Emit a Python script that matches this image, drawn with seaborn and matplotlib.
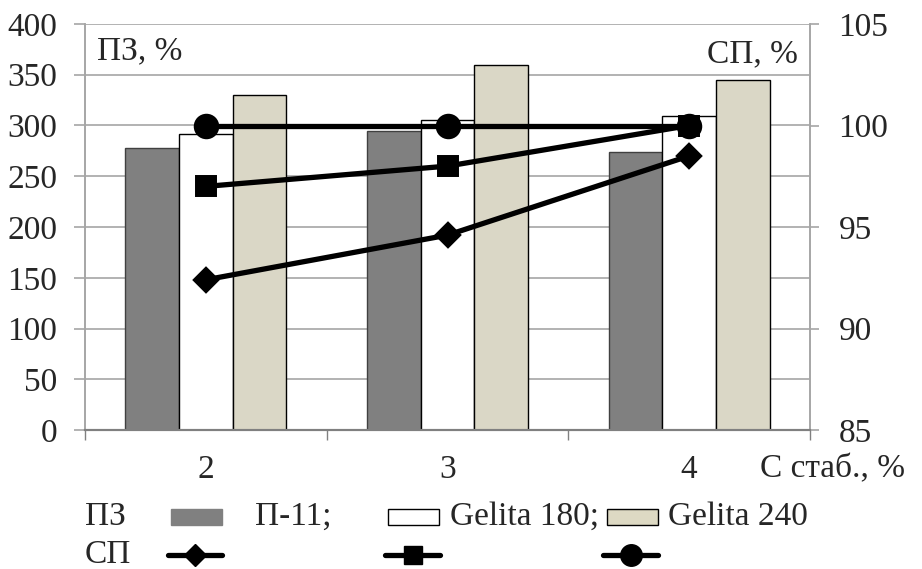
import matplotlib
matplotlib.use("Agg")
import matplotlib.pyplot as plt
from matplotlib.patches import Rectangle
from matplotlib.lines import Line2D
import seaborn as sns
import pandas as pd

# ---- data ----
categories = ["2", "3", "4"]
samples = ["П-11", "Gelita 180", "Gelita 240"]
pz_p11 = [278, 295, 274]
pz_g180 = [292, 305, 309]
pz_g240 = [330, 360, 345]
sp_p11 = [92.4, 94.6, 98.5]
sp_g180 = [97.0, 98.0, 100.0]
sp_g240 = [100.0, 100.0, 100.0]
left_ticks = [0, 50, 100, 150, 200, 250, 300, 350, 400]
right_ticks = [85, 90, 95, 100, 105]
legend_labels = ["П-11;", "Gelita 180;", "Gelita 240"]

bar_colors = ["#808080", "#ffffff", "#ddd9c3"]
bar_edges = ["#404040", "#000000", "#000000"]
markers = ["D", "s", "o"]

pz_df = pd.DataFrame({
    "C": categories * 3,
    "sample": sum([[s] * 3 for s in samples], []),
    "PZ": pz_p11 + pz_g180 + pz_g240,
})
sp_df = pd.DataFrame({
    "C": categories * 3,
    "sample": sum([[s] * 3 for s in samples], []),
    "SP": sp_p11 + sp_g180 + sp_g240,
})

sns.set_style("white")
FAM = "Liberation Serif"
plt.rcParams["font.family"] = FAM
FS = 24
GRID = "#a6a6a6"

fig = plt.figure(figsize=(9.22, 5.69), dpi=100)
ax = fig.add_axes([85 / 922, 1 - 430 / 569, 725 / 922, 406 / 569])

sns.barplot(data=pz_df, x="C", y="PZ", hue="sample", hue_order=samples,
            palette=bar_colors, width=0.665, linewidth=1.0,
            edgecolor="black", legend=False, ax=ax, zorder=2)
for cont, ec in zip(ax.containers, bar_edges):
    for p in cont:
        p.set_edgecolor(ec)

ax2 = ax.twinx()
sns.pointplot(data=sp_df, x="C", y="SP", hue="sample", hue_order=samples,
              palette=["black"] * 3, markers=markers, linestyles=["-"] * 3,
              dodge=False, errorbar=None, legend=False, ax=ax2,
              markersize=14, linewidth=3.8)
MS = {"D": 11.5, "s": 13.5, "o": 15.5}
for ln, m in zip(ax2.lines, markers):
    ln.set_markersize(MS[m])

ax.set_ylim(0, 400)
ax2.set_ylim(85, 105)
ax.set_xlim(-0.5, 2.5)

ax.set_yticks(left_ticks)
ax.set_yticklabels([str(t) for t in left_ticks])
ax2.set_yticks(right_ticks)
ax2.set_yticklabels([str(t) for t in right_ticks])

ax.set_xticks([-0.5, 0.5, 1.5, 2.5])
ax.set_xticklabels([])
ax.set_xticks([0, 1, 2], labels=categories, minor=True)
ax.tick_params(axis="x", which="major", direction="out", length=7,
               width=1, color="#808080", bottom=True)
ax.tick_params(axis="x", which="minor", length=0, pad=18, labelsize=FS)
ax.set_xlabel("")
ax.set_ylabel("")
ax2.set_ylabel("")

ax.yaxis.grid(True, color=GRID, linewidth=1.2)
ax.xaxis.grid(False)
ax.set_axisbelow(True)
ax2.grid(False)

ax.tick_params(axis="y", direction="out", length=8, width=1.2, color=GRID,
               pad=12, labelsize=FS, left=True)
ax2.tick_params(axis="y", direction="out", length=6.5, width=1.2, color=GRID,
                pad=14, labelsize=FS, right=True)

for a in (ax, ax2):
    for lab in a.get_xticklabels(minor=True) + a.get_yticklabels():
        lab.set_family(FAM)
    a.spines["top"].set_visible(False)
    a.spines["left"].set_color(GRID)
    a.spines["right"].set_color(GRID)
    a.spines["bottom"].set_color("#808080")
    a.spines["left"].set_linewidth(1.2)
    a.spines["right"].set_linewidth(1.2)
    a.spines["bottom"].set_linewidth(1.5)

ax.text(0.0166, 0.933, "ПЗ, %", transform=ax.transAxes, fontsize=FS,
        ha="left", va="center", family=FAM)
ax.text(0.983, 0.926, "СП, %", transform=ax.transAxes, fontsize=FS,
        ha="right", va="center", family=FAM)
fig.text(760 / 922, 1 - 469 / 569, "С стаб., %", fontsize=FS,
         ha="left", va="center", family=FAM)

# ---- custom legend ----
row1 = 1 - 517 / 569
row2 = 1 - 555 / 569
fig.text(85 / 922, row1, "ПЗ", fontsize=FS, ha="left", va="center", family=FAM)
fig.text(85 / 922, row2, "СП", fontsize=FS, ha="left", va="center", family=FAM)

patch_x = [171, 388, 607]
text_x = [255, 450, 668]
pw, ph = 51, 16
for px, tx, fc, ec, lab in zip(patch_x, text_x, bar_colors,
                               ["#808080", "#000000", "#000000"],
                               legend_labels):
    fig.add_artist(Rectangle((px / 922, row1 - ph / 2 / 569), pw / 922,
                             ph / 569, transform=fig.transFigure,
                             facecolor=fc, edgecolor=ec, linewidth=1.0))
    fig.text(tx / 922, row1, lab, fontsize=FS, ha="left", va="center",
             family=FAM)

line_x = [(168, 222), (385, 440), (603, 658)]
for (x0, x1), m in zip(line_x, markers):
    xm = (x0 + x1) / 2
    fig.add_artist(Line2D([x0 / 922, xm / 922, x1 / 922], [row2] * 3,
                          transform=fig.transFigure, color="black",
                          linewidth=3.8, marker=m, markersize=MS[m],
                          markevery=[1], solid_capstyle="round"))

fig.savefig("out.png", dpi=100)
